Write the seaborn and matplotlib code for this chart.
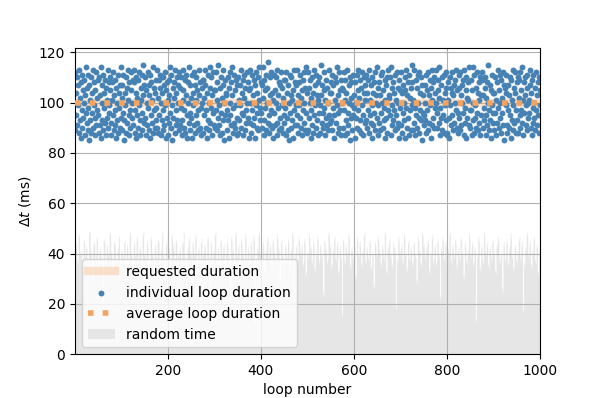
import numpy as np
import pandas as pd
import matplotlib
matplotlib.use("Agg")
import matplotlib.pyplot as plt
import seaborn as sns

# requested loop duration (ms)
requested_ms = 100

loop_duration = [
    112, 89, 104, 95, 110, 91, 99, 107, 88, 113, 102, 93, 86, 108, 97, 111, 90, 105, 94, 100, 109, 87, 103, 96, 114,
    92, 106, 89, 111, 98, 85, 107, 101, 93, 110, 88, 104, 96, 113, 90, 99, 108, 94, 87, 105, 112, 91, 102, 97, 109,
    95, 88, 110, 103, 91, 114, 86, 100, 107, 93, 111, 89, 104, 98, 92, 109, 87, 106, 101, 94, 113, 90, 108, 96, 99,
    105, 110, 92, 87, 101, 108, 95, 112, 89, 103, 97, 91, 109, 86, 106, 100, 93, 111, 88, 104, 98, 107, 90, 114, 94,
    102, 89, 107, 96, 111, 93, 85, 104, 99, 110, 88, 106, 92, 101, 113, 95, 87, 108, 97, 90, 105, 112, 94, 100, 109,
    91, 108, 113, 88, 97, 104, 110, 86, 102, 95, 109, 90, 99, 112, 93, 87, 106, 101, 111, 89, 96, 103, 115, 92, 107,
    110, 94, 87, 105, 100, 91, 112, 98, 89, 107, 103, 86, 111, 95, 108, 92, 101, 114, 88, 97, 106, 90, 104, 109, 93,
    98, 113, 90, 102, 88, 109, 95, 106, 111, 87, 100, 104, 93, 110, 89, 97, 107, 91, 112, 99, 86, 105, 94, 108, 101,
    87, 103, 109, 92, 114, 96, 90, 111, 99, 85, 106, 94, 102, 108, 88, 113, 97, 91, 104, 110, 93, 100, 107, 89, 112,
    106, 91, 98, 110, 93, 87, 105, 101, 113, 90, 97, 109, 88, 103, 111, 95, 86, 108, 100, 92, 114, 96, 89, 107, 102,
    94, 111, 86, 104, 99, 112, 91, 107, 88, 101, 95, 110, 92, 105, 97, 89, 113, 103, 90, 108, 98, 87, 106, 100, 109,
    109, 88, 102, 95, 107, 113, 90, 97, 104, 86, 111, 93, 100, 89, 106, 114, 92, 98, 110, 87, 103, 96, 112, 91, 105,
    90, 105, 112, 97, 89, 101, 108, 94, 115, 91, 99, 106, 87, 110, 96, 102, 88, 113, 93, 107, 100, 85, 109, 95, 103,
    104, 97, 89, 110, 93, 106, 86, 112, 100, 95, 108, 91, 103, 114, 88, 98, 111, 92, 105, 90, 109, 99, 87, 107, 94,
    88, 110, 101, 93, 107, 99, 113, 90, 96, 104, 87, 109, 95, 102, 111, 89, 106, 97, 92, 112, 100, 94, 108, 86, 105,
    113, 92, 106, 100, 88, 111, 97, 103, 91, 109, 94, 86, 107, 99, 112, 90, 104, 96, 110, 89, 101, 114, 93, 98, 108,
    96, 107, 90, 114, 102, 87, 109, 93, 105, 98, 111, 89, 100, 106, 92, 116, 95, 88, 103, 110, 91, 97, 112, 104, 90,
    101, 86, 111, 96, 91, 105, 100, 110, 87, 113, 92, 103, 98, 89, 108, 94, 107, 112, 90, 99, 106, 88, 102, 109, 95,
    92, 109, 98, 87, 112, 94, 104, 89, 107, 100, 85, 111, 96, 103, 90, 110, 93, 101, 86, 105, 113, 97, 91, 108, 99,
    107, 95, 113, 91, 103, 88, 99, 108, 94, 111, 102, 90, 105, 87, 109, 97, 112, 92, 100, 106, 89, 114, 96, 104, 88,
    89, 112, 94, 106, 100, 109, 86, 102, 97, 91, 110, 104, 88, 113, 95, 99, 107, 90, 111, 93, 103, 87, 108, 101, 96,
    110, 99, 88, 103, 115, 92, 107, 96, 90, 105, 98, 112, 87, 101, 94, 109, 91, 106, 100, 89, 113, 95, 104, 92, 108,
    93, 104, 111, 89, 98, 107, 95, 86, 110, 101, 92, 108, 99, 114, 88, 103, 96, 90, 112, 105, 97, 109, 87, 100, 106,
    105, 90, 97, 112, 87, 101, 109, 93, 104, 88, 113, 96, 91, 107, 100, 85, 110, 94, 102, 108, 89, 99, 111, 95, 103,
    98, 108, 86, 100, 94, 111, 90, 105, 97, 113, 89, 102, 109, 93, 106, 88, 112, 99, 95, 87, 104, 110, 92, 107, 101,
    111, 93, 104, 90, 109, 97, 113, 88, 101, 95, 107, 92, 86, 110, 99, 104, 91, 108, 96, 112, 89, 103, 100, 94, 114,
    87, 106, 99, 108, 92, 103, 89, 111, 96, 100, 112, 90, 105, 98, 93, 109, 86, 101, 107, 94, 110, 88, 97, 113, 102,
    103, 95, 110, 87, 114, 99, 106, 91, 108, 93, 97, 104, 111, 89, 101, 95, 112, 90, 106, 100, 92, 109, 86, 105, 98,
    91, 112, 88, 104, 96, 107, 100, 93, 110, 86, 105, 98, 113, 90, 103, 108, 94, 87, 111, 97, 102, 89, 106, 99, 115,
    108, 89, 101, 113, 92, 98, 87, 109, 95, 106, 90, 111, 100, 94, 112, 88, 104, 97, 110, 93, 107, 85, 103, 96, 91,
    95, 107, 93, 100, 111, 88, 105, 97, 89, 112, 103, 92, 109, 99, 86, 106, 113, 91, 101, 94, 108, 90, 110, 98, 104,
    100, 113, 90, 96, 105, 109, 92, 102, 114, 87, 98, 107, 94, 110, 89, 101, 95, 111, 88, 104, 99, 106, 93, 112, 87,
    88, 101, 108, 94, 86, 110, 99, 106, 91, 104, 112, 95, 89, 103, 107, 92, 109, 100, 97, 113, 90, 105, 96, 88, 111,
    106, 94, 112, 89, 103, 91, 107, 100, 96, 109, 87, 113, 98, 92, 105, 110, 86, 102, 94, 108, 101, 91, 114, 97, 90,
    97, 109, 87, 105, 100, 114, 93, 88, 111, 99, 94, 106, 90, 112, 96, 89, 104, 108, 92, 101, 87, 110, 95, 103, 109,
    112, 90, 103, 98, 93, 106, 110, 95, 87, 102, 108, 91, 100, 115, 89, 97, 107, 93, 105, 86, 111, 99, 104, 92, 96,
    89, 104, 96, 110, 101, 87, 108, 92, 113, 98, 90, 105, 111, 94, 100, 109, 88, 102, 96, 112, 91, 107, 85, 106, 100,
    104, 99, 111, 91, 88, 107, 97, 103, 90, 110, 95, 86, 109, 101, 93, 113, 99, 89, 106, 92, 104, 112, 97, 88, 108,
    93, 110, 88, 102, 109, 95, 112, 90, 105, 97, 114, 92, 101, 87, 108, 96, 103, 110, 91, 99, 106, 89, 111, 94, 100,
    101, 96, 107, 113, 90, 104, 87, 109, 98, 92, 111, 100, 94, 106, 89, 112, 97, 103, 91, 108, 95, 110, 88, 105, 99,
]

# random sleep time added in every loop (ms)
random_time = [
    44, 45, 43, 44, 37, 38, 36, 47, 48, 47, 40, 41, 39, 40, 41, 33, 34, 32, 45, 46, 44, 38, 39, 42, 43,
    42, 36, 35, 37, 36, 49, 48, 49, 41, 42, 40, 30, 31, 29, 44, 43, 45, 44, 38, 37, 39, 46, 47, 45, 35,
    34, 35, 41, 42, 41, 43, 38, 39, 37, 18, 19, 45, 46, 44, 45, 36, 37, 35, 43, 44, 42, 39, 40, 38, 48,
    47, 49, 40, 41, 39, 33, 32, 34, 44, 45, 43, 44, 37, 36, 38, 37, 42, 43, 41, 46, 47, 35, 36, 34, 41,
    42, 40, 38, 39, 38, 45, 44, 46, 27, 28, 26, 43, 44, 42, 36, 37, 35, 48, 49, 47, 40, 41, 39, 33, 34,
    32, 44, 45, 43, 39, 38, 40, 46, 45, 47, 37, 36, 38, 42, 43, 41, 42, 35, 34, 36, 48, 47, 49, 40, 39,
    41, 38, 37, 39, 44, 45, 43, 14, 15, 36, 37, 35, 46, 47, 45, 40, 41, 39, 33, 34, 32, 43, 44, 42, 38,
    39, 37, 45, 46, 44, 45, 36, 35, 37, 42, 41, 43, 48, 49, 39, 38, 40, 30, 31, 29, 44, 43, 45, 37, 36,
    38, 41, 42, 40, 35, 34, 36, 47, 48, 46, 43, 42, 44, 37, 38, 36, 45, 46, 44, 22, 23, 39, 40, 38, 42,
    43, 41, 36, 37, 35, 44, 45, 43, 49, 48, 38, 39, 37, 33, 32, 34, 42, 43, 41, 46, 45, 47, 40, 39, 41,
    37, 36, 44, 45, 43, 39, 40, 38, 47, 46, 48, 34, 35, 33, 42, 41, 43, 37, 38, 36, 45, 44, 46, 28, 29,
    40, 41, 39, 43, 44, 42, 36, 35, 37, 46, 47, 45, 38, 39, 16, 17, 44, 43, 45, 35, 36, 34, 41, 42, 40,
    48, 47, 49, 37, 38, 36, 42, 43, 41, 33, 34, 32, 45, 44, 46, 39, 38, 40, 43, 42, 44, 36, 37, 35, 41,
    40, 44, 45, 43, 38, 37, 39, 26, 27, 25, 46, 47, 45, 41, 40, 42, 35, 36, 34, 48, 47, 49, 39, 40, 38,
    43, 42, 44, 36, 37, 35, 45, 46, 44, 40, 41, 39, 31, 32, 30, 47, 48, 46, 38, 39, 37, 42, 43, 41, 36,
    35, 34, 44, 43, 45, 39, 40, 38, 46, 47, 45, 12, 13, 37, 38, 36, 42, 43, 41, 48, 49, 47, 40, 39, 41,
    37, 36, 38, 44, 45, 43, 33, 34, 32, 41, 42, 40, 46, 45, 47, 38, 37, 39, 43, 44, 42, 35, 36, 34, 45,
    44, 46, 40, 41, 39, 37, 38, 36, 47, 48, 46, 42, 43, 41, 29, 30, 28, 45, 44, 46, 39, 38, 40, 36, 37,
    35, 43, 44, 42, 38, 39, 37, 45, 46, 44, 34, 33, 35, 41, 42, 40, 48, 49, 47, 20, 21, 39, 40, 38, 43,
    42, 44, 37, 36, 38, 46, 47, 45, 40, 41, 39, 43, 42, 44, 36, 35, 37, 45, 46, 44, 32, 33, 31, 41, 40,
    39, 38, 47, 48, 46, 42, 41, 43, 37, 38, 36, 44, 45, 43, 34, 35, 33, 40, 41, 39, 46, 47, 45, 38, 37,
    36, 43, 44, 42, 39, 40, 38, 24, 25, 23, 45, 46, 44, 41, 42, 40, 37, 36, 38, 48, 49, 47, 43, 42, 44,
    35, 34, 36, 41, 42, 40, 46, 45, 47, 38, 39, 37, 44, 43, 45, 33, 32, 34, 42, 43, 41, 39, 38, 15, 16,
    45, 46, 44, 37, 38, 36, 43, 44, 42, 40, 39, 41, 47, 48, 46, 35, 36, 34, 42, 41, 43, 38, 37, 39, 44,
    45, 43, 31, 30, 32, 46, 47, 45, 39, 40, 38, 44, 43, 45, 36, 37, 35, 41, 42, 40, 48, 47, 49, 37, 38,
    36, 42, 43, 41, 38, 39, 37, 45, 44, 46, 34, 35, 33, 40, 41, 39, 27, 28, 26, 44, 45, 43, 39, 38, 40,
    46, 47, 45, 41, 42, 40, 36, 37, 35, 43, 44, 42, 38, 39, 37, 48, 49, 47, 33, 34, 32, 42, 43, 41, 45,
    44, 46, 39, 38, 40, 35, 36, 34, 44, 45, 43, 41, 40, 42, 18, 19, 37, 38, 36, 46, 47, 45, 40, 41, 39,
    43, 42, 44, 37, 36, 38, 47, 48, 46, 40, 39, 41, 34, 33, 35, 45, 44, 46, 38, 39, 37, 42, 43, 41, 36,
    35, 37, 44, 45, 43, 39, 40, 38, 29, 30, 28, 46, 47, 45, 41, 42, 40, 36, 37, 35, 48, 49, 47, 43, 42,
    44, 38, 39, 37, 42, 43, 41, 45, 46, 44, 33, 34, 32, 40, 41, 39, 47, 46, 48, 37, 36, 38, 43, 44, 42,
    36, 35, 37, 45, 44, 46, 39, 40, 38, 22, 23, 42, 43, 41, 46, 47, 45, 38, 37, 39, 44, 45, 43, 34, 35,
    33, 41, 42, 40, 48, 49, 47, 37, 38, 36, 43, 42, 44, 39, 40, 38, 45, 46, 44, 35, 36, 34, 42, 41, 43,
    38, 39, 37, 46, 47, 45, 40, 41, 39, 31, 32, 30, 44, 43, 45, 37, 38, 36, 41, 42, 40, 47, 48, 46, 39,
    38, 40, 44, 45, 43, 36, 35, 37, 42, 43, 41, 13, 14, 39, 38, 40, 46, 47, 45, 34, 35, 33, 43, 44, 42,
    37, 38, 36, 48, 49, 47, 40, 41, 39, 44, 43, 45, 35, 36, 34, 42, 43, 41, 38, 39, 37, 45, 46, 44, 40,
    41, 39, 33, 34, 32, 43, 44, 42, 46, 47, 45, 37, 38, 36, 40, 41, 39, 26, 27, 25, 44, 45, 43, 38, 37,
    39, 45, 46, 44, 36, 37, 35, 42, 41, 43, 47, 48, 46, 39, 38, 40, 34, 33, 35, 43, 44, 42, 37, 38, 36,
    41, 42, 40, 46, 45, 47, 38, 39, 37, 44, 43, 45, 17, 18, 36, 37, 35, 42, 43, 41, 48, 49, 47, 39, 40,
    38, 44, 45, 43, 35, 36, 34, 41, 42, 40, 46, 47, 45, 37, 38, 36, 43, 44, 42, 32, 33, 31, 40, 41, 39,
]

# running average of the loop duration stays at the request
average_duration = [100, 100]

loops = np.arange(1, len(loop_duration) + 1)
df = pd.DataFrame({"loop": loops, "dt": loop_duration})
rnd = pd.DataFrame({"loop": np.arange(1, len(random_time) + 1), "random": random_time})
ends = [loops[0], loops[-1]]

fig, ax = plt.subplots(figsize=(6, 3.98), dpi=100)

ax.fill_between(rnd["loop"], rnd["random"], step="mid", color="0.9",
                linewidth=0, label="random time")
sns.lineplot(x=ends, y=[requested_ms, requested_ms], ax=ax, color="sandybrown",
             alpha=0.3, linewidth=6, label="requested duration")
sns.scatterplot(data=df, x="loop", y="dt", ax=ax, color="steelblue", s=18,
                linewidth=0, zorder=2, label="individual loop duration")
sns.lineplot(x=ends, y=average_duration, ax=ax, color="sandybrown",
             linestyle=":", linewidth=4, zorder=3, label="average loop duration")

ax.set_xlim(1, 1000)
ax.set_ylim(bottom=0)
ax.grid(True)
ax.set_xlabel("loop number")
ax.set_ylabel(r"$\Delta t$ (ms)")

order = ["requested duration", "individual loop duration",
         "average loop duration", "random time"]
handles, labels = ax.get_legend_handles_labels()
lookup = dict(zip(labels, handles))
ax.legend([lookup[k] for k in order], order, loc="lower left")

fig.savefig("out.png", dpi=100)
